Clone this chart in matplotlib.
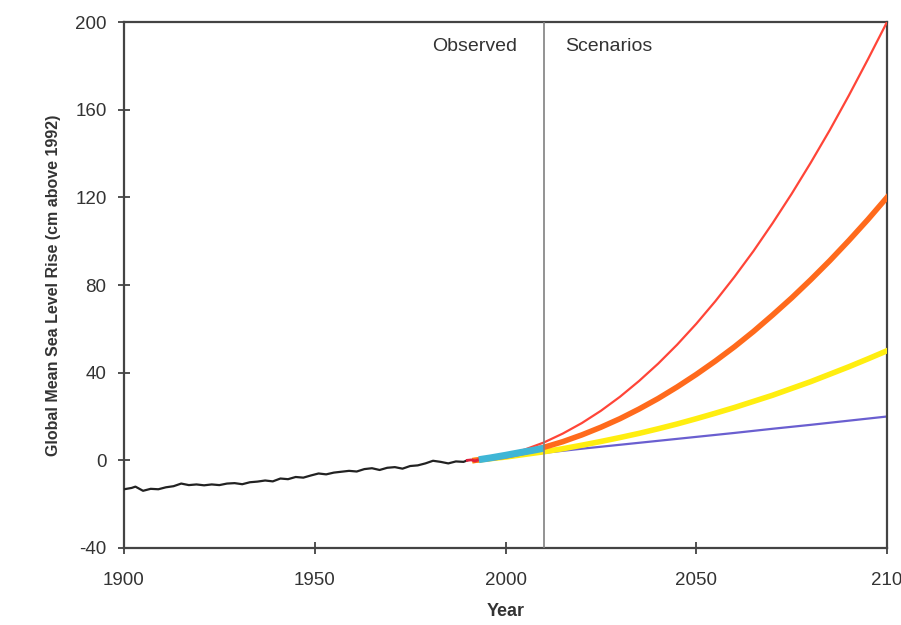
import matplotlib
matplotlib.use("Agg")
import matplotlib.pyplot as plt

plt.rcParams['font.family'] = ['Liberation Sans', 'DejaVu Sans']
plt.rcParams['axes.unicode_minus'] = False

# observed tide gauge record (cm above 1992)
obs_years = [1900, 1902, 1903, 1905, 1907, 1909, 1911, 1913, 1915, 1917, 1919, 1921, 1923, 1925,
             1927, 1929, 1931, 1933, 1935, 1937, 1939, 1941, 1943, 1945, 1947, 1949, 1951, 1953,
             1955, 1957, 1959, 1961, 1963, 1965, 1967, 1969, 1971, 1973, 1975, 1977, 1979, 1981,
             1983, 1985, 1987, 1989, 1990]
obs_vals = [-13.2, -12.6, -12.0, -13.9, -13.0, -13.2, -12.3, -11.8, -10.6, -11.3, -11.0, -11.4,
            -11.0, -11.3, -10.6, -10.4, -10.9, -10.0, -9.7, -9.2, -9.6, -8.3, -8.6, -7.6, -7.9,
            -6.9, -6.0, -6.4, -5.6, -5.2, -4.8, -5.1, -4.0, -3.6, -4.4, -3.4, -3.1, -3.8, -2.6,
            -2.3, -1.4, -0.2, -0.7, -1.4, -0.5, -0.7, 0.0]

# end of tide gauge record
red_years = [1990, 1991, 1992, 1993]
red_vals = [0.0, 0.2, -0.3, 0.3]

# satellite altimetry
sat_years = [1993, 1996, 2000, 2004, 2007, 2010]
sat_vals = [0.3, 1.1, 2.3, 3.6, 4.5, 5.5]

# scenarios
scen_years = [1992, 2000, 2005, 2010, 2015, 2020, 2025, 2030, 2035, 2040, 2045, 2050, 2055,
              2060, 2065, 2070, 2075, 2080, 2085, 2090, 2095, 2100]
highest = [0, 2.4, 4.9, 8.1, 12.2, 17.0, 22.6, 29.0, 36.2, 44.1, 52.8, 62.3, 72.6,
           83.7, 95.5, 108.2, 121.6, 135.8, 150.7, 166.5, 183.0, 200]
int_high = [0, 1.9, 3.7, 5.9, 8.5, 11.6, 15.1, 19.0, 23.4, 28.2, 33.5, 39.2, 45.3,
            51.8, 58.8, 66.3, 74.1, 82.4, 91.1, 100.3, 109.9, 120]
int_low = [0, 1.5, 2.7, 3.9, 5.3, 6.9, 8.6, 10.4, 12.3, 14.4, 16.6, 19.0, 21.5,
           24.1, 26.9, 29.7, 32.8, 35.9, 39.3, 42.7, 46.3, 50]
low_years = [1992, 2000, 2010, 2020, 2030, 2040, 2050, 2060, 2070, 2080, 2090, 2100]
lowest = [0, 1.5, 3.4, 5.3, 7.1, 8.9, 10.7, 12.5, 14.4, 16.2, 18.1, 20]

x_ticks = [1900, 1950, 2000, 2050, 2100]
x_labels = ['1900', '1950', '2000', '2050', '210']
y_ticks = [-40, 0, 40, 80, 120, 160, 200]

fig = plt.figure(figsize=(9.01, 6.25), dpi=100, facecolor='w')
ax = fig.add_axes([0.1376, 0.1232, 0.8469, 0.8416])

ax.plot(low_years, lowest, color='#6a5fd0', lw=1.6, zorder=2)
ax.plot(scen_years, int_low, color='#ffee10', lw=4, zorder=3)
ax.plot(scen_years, int_high, color='#ff6a1c', lw=4, zorder=4)
ax.plot(scen_years, highest, color='#ff4538', lw=1.6, zorder=5)

ax.plot(obs_years, obs_vals, color='#222222', lw=1.6, zorder=6)
ax.plot(red_years, red_vals, color='#e0203a', lw=2, zorder=6)
ax.plot(sat_years, sat_vals, color='#3fb6d6', lw=5, zorder=7, solid_capstyle='butt')

ax.axvline(2010, color='#808080', lw=1.2, zorder=8)

ax.text(2003, 189, 'Observed', ha='right', va='center', fontsize=14, color='#333333')
ax.text(2015.5, 189, 'Scenarios', ha='left', va='center', fontsize=14, color='#333333')

ax.set_xlim(1900, 2100)
ax.set_ylim(-40, 200)
ax.set_xticks(x_ticks)
ax.set_xticklabels(x_labels)
ax.set_yticks(y_ticks)
ax.tick_params(direction='inout', length=9, width=1.2, labelsize=13.5, colors='#333333')
ax.tick_params(axis='x', pad=13)
ax.tick_params(axis='y', pad=8)

for s in ax.spines.values():
    s.set_color('#444444')
    s.set_linewidth(1.6)

ax.set_xlabel('Year', fontsize=13, fontweight='bold', color='#333333', labelpad=10)
ax.set_ylabel('Global Mean Sea Level Rise (cm above 1992)', fontsize=11.5, fontweight='bold',
              color='#333333', labelpad=10)

fig.savefig('out.png', dpi=100, facecolor='w')
